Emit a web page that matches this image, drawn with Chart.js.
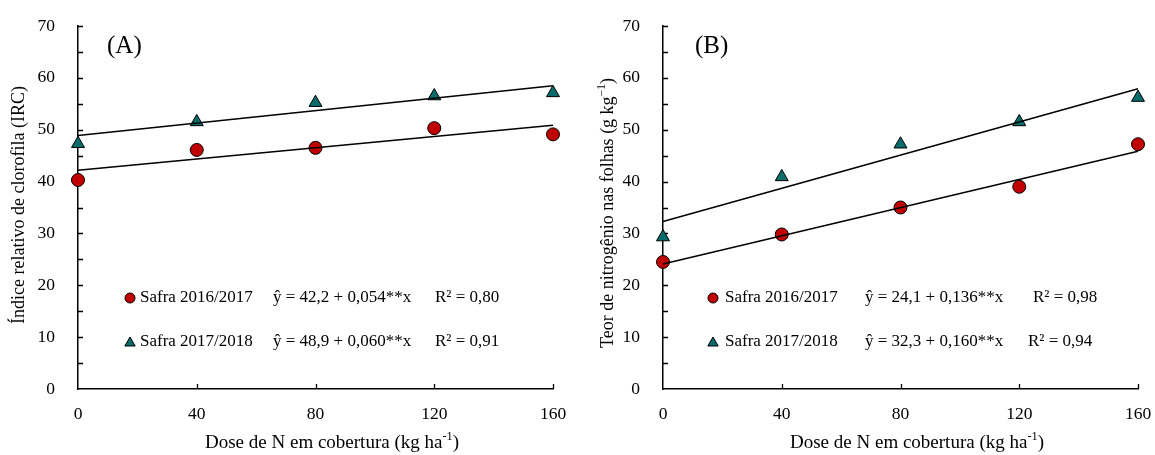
<!DOCTYPE html>
<html>
<head>
<meta charset="utf-8">
<script src="https://cdn.jsdelivr.net/npm/chart.js@4/dist/chart.umd.min.js"></script>
<style>
  html, body { margin: 0; padding: 0; background: #ffffff; }
  #wrap { position: relative; width: 1155px; height: 455px; overflow: hidden; }
  .panel { position: absolute; top: 0; width: 577px; height: 455px; }
</style>
</head>
<body>
<div id="wrap">
  <div class="panel" style="left:0px"><canvas id="chartA" width="577" height="455"></canvas></div>
  <div class="panel" style="left:578px"><canvas id="chartB" width="577" height="455"></canvas></div>
</div>
<script>
// N topdressing doses (kg ha-1)
const doses = [0, 40, 80, 120, 160];
const seasons = ['Safra 2016/2017', 'Safra 2017/2018'];

// (A) relative chlorophyll index
const chlorophyll2016 = [40.3, 46.1, 46.5, 50.3, 49.1];
const chlorophyll2017 = [47.3, 51.5, 55.2, 56.5, 57.1];
const chlorophyllIntercepts = [42.2, 48.9];
const chlorophyllSlopes = [0.054, 0.060];
const chlorophyllR2 = [0.80, 0.91];

// (B) leaf nitrogen content
const nitrogen2016 = [24.5, 29.8, 35.0, 39.0, 47.2];
const nitrogen2017 = [29.3, 40.9, 47.2, 51.5, 56.2];
const nitrogenIntercepts = [24.1, 32.3];
const nitrogenSlopes = [0.136, 0.160];
const nitrogenR2 = [0.98, 0.94];

const yTickValues = [0, 10, 20, 30, 40, 50, 60, 70];
const xTickValues = [0, 40, 80, 120, 160];

const RED = '#c00000';
const TEAL = '#0a6b6b';
const FONT = '"Liberation Serif", "Times New Roman", serif';

const br = (v, d) => v.toFixed(d).replace('.', ',');

// draws a run of text pieces, some raised as superscripts
function drawRich(ctx, parts, size, cx, cy) {
  const widths = parts.map(p => {
    ctx.font = (p.sup ? size * 0.65 : size) + 'px ' + FONT;
    return ctx.measureText(p.t).width;
  });
  const total = widths.reduce((a, b) => a + b, 0);
  let x = cx - total / 2;
  ctx.textAlign = 'left';
  ctx.textBaseline = 'middle';
  parts.forEach((p, i) => {
    ctx.font = (p.sup ? size * 0.65 : size) + 'px ' + FONT;
    ctx.fillText(p.t, x, p.sup ? cy - size * 0.33 : cy);
    x += widths[i];
  });
}

// inward tick marks on both axes
const innerTicks = {
  id: 'innerTicks',
  beforeDatasetsDraw(chart) {
    const { ctx, chartArea, scales } = chart;
    ctx.save();
    ctx.strokeStyle = '#000';
    ctx.lineWidth = 1.3;
    ctx.beginPath();
    for (let v = 5; v <= 70; v += 5) {
      const y = Math.round(scales.y.getPixelForValue(v)) + 0.5;
      ctx.moveTo(chartArea.left, y);
      ctx.lineTo(chartArea.left + 5, y);
    }
    xTickValues.forEach(v => {
      if (v === 0) return;
      const x = Math.round(scales.x.getPixelForValue(v)) + 0.5;
      ctx.moveTo(x, chartArea.bottom);
      ctx.lineTo(x, chartArea.bottom - 5);
    });
    ctx.stroke();
    ctx.restore();
  }
};

// panel letter, axis titles and the equation key
const panelDecor = {
  id: 'panelDecor',
  afterDraw(chart, args, o) {
    const { ctx } = chart;
    ctx.save();
    ctx.fillStyle = '#000';

    ctx.font = '25px ' + FONT;
    ctx.textAlign = 'left';
    ctx.textBaseline = 'middle';
    ctx.fillText(o.letter, o.letterX, 46);

    drawRich(ctx, o.xTitle, 19, o.xTitleX, 443);

    ctx.save();
    ctx.translate(o.yTitleX, o.yTitleY);
    ctx.rotate(-Math.PI / 2);
    drawRich(ctx, o.yTitle, 18, 0, 0);
    ctx.restore();

    const styles = ['circle', 'triangle'];
    const fills = [RED, TEAL];
    o.rows.forEach((row, i) => {
      const y = o.rowY[i];
      ctx.fillStyle = fills[i];
      ctx.strokeStyle = '#000';
      ctx.lineWidth = 1;
      Chart.helpers.drawPoint(ctx, { pointStyle: styles[i], radius: i === 0 ? 5 : 6, borderWidth: 1, rotation: 0 },
        o.markerX, i === 0 ? y : y + 1);
      ctx.fillStyle = '#000';
      ctx.font = '17px ' + FONT;
      ctx.textAlign = 'left';
      ctx.textBaseline = 'middle';
      ctx.fillText(seasons[i], o.nameX, y);
      ctx.fillText(row.eq, o.eqX, y);
      ctx.fillText(row.r2, o.r2X[i], y);
    });
    ctx.restore();
  }
};

function pts(values) {
  return doses.map((d, i) => ({ x: d, y: values[i] }));
}

function fitLine(a, b) {
  return [{ x: doses[0], y: a }, { x: doses[doses.length - 1], y: a + b * doses[doses.length - 1] }];
}

function makePanel(id, s2016, s2017, intercepts, slopes, r2s, cfg) {
  const rows = intercepts.map((a, i) => ({
    eq: 'ŷ = ' + br(a, 1) + ' + ' + br(slopes[i], 3) + '**x',
    r2: 'R² = ' + br(r2s[i], 2)
  }));
  return new Chart(document.getElementById(id), {
    type: 'scatter',
    data: {
      datasets: [
        { data: fitLine(intercepts[0], slopes[0]), showLine: true, pointRadius: 0,
          borderColor: '#000', borderWidth: 1.5, order: 0, clip: false },
        { data: fitLine(intercepts[1], slopes[1]), showLine: true, pointRadius: 0,
          borderColor: '#000', borderWidth: 1.5, order: 0, clip: false },
        { label: seasons[0], data: pts(s2016), pointStyle: 'circle', pointRadius: 6.5,
          backgroundColor: RED, borderColor: '#000', borderWidth: 1, order: 1, clip: false },
        { label: seasons[1], data: pts(s2017), pointStyle: 'triangle', pointRadius: 7.5,
          backgroundColor: TEAL, borderColor: '#000', borderWidth: 1, order: 1, clip: false }
      ]
    },
    options: {
      responsive: false,
      animation: false,
      events: [],
      layout: { padding: { top: 26, right: cfg.padRight, left: 0, bottom: 0 } },
      plugins: {
        legend: { display: false },
        tooltip: { enabled: false },
        panelDecor: Object.assign({ rows }, cfg.decor)
      },
      scales: {
        x: {
          type: 'linear', min: 0, max: 160,
          afterBuildTicks: sc => { sc.ticks = xTickValues.map(v => ({ value: v })); },
          afterFit: sc => { sc.height = 66; sc.paddingLeft = 0; sc.paddingRight = 0; },
          ticks: { color: '#000', font: { family: FONT, size: 17.5 }, padding: 7, maxRotation: 0 },
          grid: { display: false },
          border: { display: true, color: '#000', width: 1.5 }
        },
        y: {
          min: 0, max: 70,
          afterBuildTicks: sc => { sc.ticks = yTickValues.map(v => ({ value: v })); },
          afterFit: sc => { sc.width = cfg.yWidth; sc.paddingTop = 0; sc.paddingBottom = 0; },
          ticks: { color: '#000', font: { family: FONT, size: 17.5 }, padding: 15 },
          grid: { display: false },
          border: { display: true, color: '#000', width: 1.5 }
        }
      }
    },
    plugins: [innerTicks, panelDecor]
  });
}

makePanel('chartA', chlorophyll2016, chlorophyll2017, chlorophyllIntercepts, chlorophyllSlopes, chlorophyllR2, {
  yWidth: 78, padRight: 24,
  decor: {
    letter: '(A)', letterX: 107,
    xTitle: [{ t: 'Dose de N em cobertura (kg ha' }, { t: '-1', sup: true }, { t: ')' }], xTitleX: 332,
    yTitle: [{ t: 'Índice relativo de clorofila (IRC)' }], yTitleX: 19, yTitleY: 205,
    markerX: 130, nameX: 140, eqX: 273, r2X: [435, 435], rowY: [298, 342]
  }
});

makePanel('chartB', nitrogen2016, nitrogen2017, nitrogenIntercepts, nitrogenSlopes, nitrogenR2, {
  yWidth: 85, padRight: 17,
  decor: {
    letter: '(B)', letterX: 695 - 578,
    xTitle: [{ t: 'Dose de N em cobertura (kg ha' }, { t: '-1', sup: true }, { t: ')' }], xTitleX: 917 - 578,
    yTitle: [{ t: 'Teor de nitrogênio nas folhas (g kg' }, { t: '−1', sup: true }, { t: ')' }], yTitleX: 608 - 578, yTitleY: 213,
    markerX: 713 - 578, nameX: 725 - 578, eqX: 865 - 578, r2X: [1033 - 578, 1028 - 578], rowY: [298, 342]
  }
});
</script>
</body>
</html>
